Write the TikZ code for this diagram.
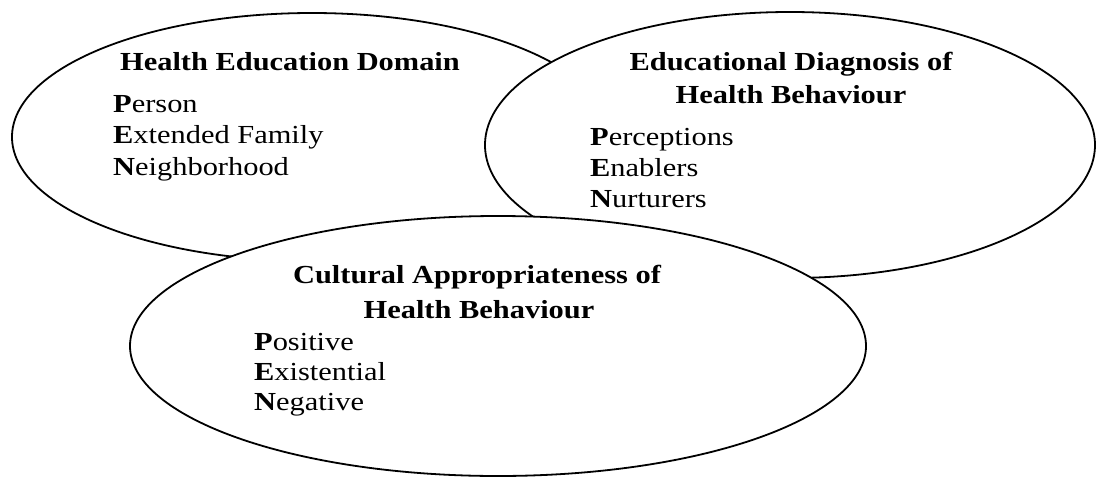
\documentclass[tikz,border=0pt]{standalone}
\usepackage{fontspec}
\setmainfont{Liberation Serif}[FakeStretch=1.17]
\begin{document}
\begin{tikzpicture}[x=1pt,y=-1pt,
  bubble/.style={draw=black, fill=white, line width=1.8pt},
  head/.style={anchor=base, inner sep=0pt, font=\fontsize{26}{31}\selectfont\bfseries},
  item/.style={anchor=base west, inner sep=0pt, font=\fontsize{26}{31}\selectfont}]
\useasboundingbox[fill=white] (0,0) rectangle (1096,477);

% three overlapping domains, each later one laid over the earlier ones
\draw[bubble] (312,137) ellipse [x radius=300pt, y radius=124pt];
\draw[bubble] (790,145) ellipse [x radius=305pt, y radius=133pt];
\draw[bubble] (498,346) ellipse [x radius=368pt, y radius=130pt];

% Health Education Domain
\node[head] (hedTitle) at (290,70) {Health Education Domain};
\node[item] (hedP) at (113,112) {\textbf{P}erson};
\node[item] (hedE) at (113,143.5) {\textbf{E}xtended Family};
\node[item] (hedN) at (113,175) {\textbf{N}eighborhood};

% Educational Diagnosis of Health Behaviour
\node[head] (edTitleA) at (791,70) {Educational Diagnosis of};
\node[head] (edTitleB) at (791,103) {Health Behaviour};
\node[item] (edP) at (590,145) {\textbf{P}erceptions};
\node[item] (edE) at (590,176) {\textbf{E}nablers};
\node[item] (edN) at (590,207) {\textbf{N}urturers};

% Cultural Appropriateness of Health Behaviour
\node[head] (caTitleA) at (477,283) {Cultural Appropriateness of};
\node[head] (caTitleB) at (479,318) {Health Behaviour};
\node[item] (caP) at (254,350) {\textbf{P}ositive};
\node[item] (caE) at (254,380) {\textbf{E}xistential};
\node[item] (caN) at (254,410) {\textbf{N}egative};
\end{tikzpicture}
\end{document}
